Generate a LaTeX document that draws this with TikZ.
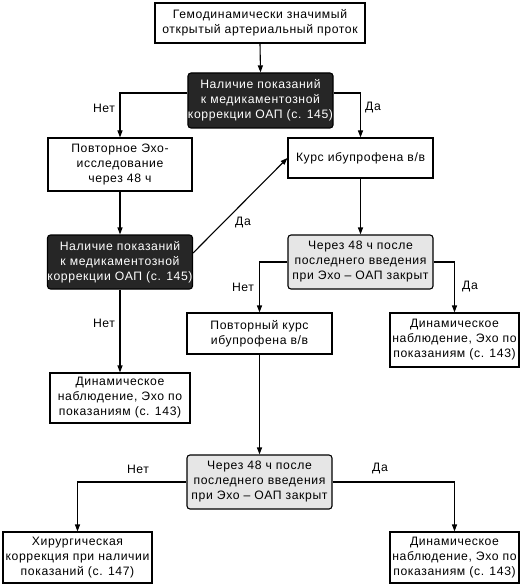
\documentclass[tikz,border=0pt]{standalone}
\usepackage{fontspec}
\setmainfont{Liberation Sans}[LetterSpace=5]
\usetikzlibrary{arrows.meta}
\begin{document}
\begin{tikzpicture}[x=1pt,y=-1pt,
  box/.style={draw=black,line width=1.1pt,fill=white,align=center,inner sep=0pt,
    font=\fontsize{12.2}{15}\selectfont},
  darkbox/.style={box,fill=darkfill,text=white,rounded corners=3pt},
  graybox/.style={box,fill=grayfill,rounded corners=3pt},
  lbl/.style={font=\fontsize{12.2}{15}\selectfont,inner sep=0pt},
  conn/.style={line width=1.1pt,-{Triangle[length=7pt,width=5pt]}}]
\definecolor{darkfill}{HTML}{262626}
\definecolor{grayfill}{HTML}{E6E6E6}
\useasboundingbox (0,0) rectangle (531,588);
\fill[white] (0,0) rectangle (531,588);
\node[box,minimum width=210,minimum height=40] (top) at (260,23) {Гемодинамически значимый\\открытый артериальный проток};
\node[darkbox,minimum width=145,minimum height=55] (d1) at (260.5,100.5) {Наличие показаний\\к медикаментозной\\коррекции ОАП (с. 145)};
\node[box,minimum width=144,minimum height=53] (echo) at (120,164.5) {Повторное Эхо-\\исследование\\через 48 ч};
\node[box,minimum width=145,minimum height=40] (ibu) at (360.5,158) {Курс ибупрофена в/в};
\node[darkbox,minimum width=145,minimum height=54] (d2) at (120,262) {Наличие показаний\\к медикаментозной\\коррекции ОАП (с. 145)};
\node[graybox,minimum width=145,minimum height=54] (g1) at (360.5,262) {Через 48 ч после\\последнего введения\\при Эхо – ОАП закрыт};
\node[box,minimum width=145,minimum height=41] (rep) at (259.5,333.5) {Повторный курс\\ибупрофена в/в};
\node[box,minimum width=129,minimum height=54] (dynR1) at (454.5,340) {Динамическое\\наблюдение, Эхо по\\показаниям (с. 143)};
\node[box,minimum width=140,minimum height=50] (dynL) at (120,398) {Динамическое\\наблюдение, Эхо по\\показаниям (с. 143)};
\node[graybox,minimum width=145,minimum height=54] (g2) at (259.5,482) {Через 48 ч после\\последнего введения\\при Эхо – ОАП закрыт};
\node[box,minimum width=149,minimum height=51] (surg) at (77.5,557.5) {Хирургическая\\коррекция при наличии\\показаний (с. 147)};
\node[box,minimum width=129,minimum height=51] (dynR2) at (454.5,557.5) {Динамическое\\наблюдение, Эхо по\\показаниям (с. 143)};

\node[lbl] (l1) at (104,108) {Нет};
\node[lbl] (l2) at (373,108) {Да};
\node[lbl] (l3) at (243,223) {Да};
\node[lbl] (l4) at (243,287) {Нет};
\node[lbl] (l5) at (470,287) {Да};
\node[lbl] (l6) at (104,323) {Нет};
\node[lbl] (l7) at (138,469) {Нет};
\node[lbl] (l8) at (380,469) {Да};

\draw[conn] (top.south) -- (d1.north);
\draw[conn] ([yshift=7.5pt]d1.west) -| (echo.north);
\draw[conn] ([yshift=7.5pt]d1.east) -| (ibu.north);
\draw[conn] (echo.south) -- (d2.north);
\draw[conn] ([yshift=9pt]d2.east) -- (ibu.west);
\draw[conn] (ibu.south) -- (g1.north);
\draw[conn] (g1.west) -| (rep.north);
\draw[conn] (g1.east) -| (dynR1.north);
\draw[conn] (d2.south) -- (dynL.north);
\draw[conn] (rep.south) -- (g2.north);
\draw[conn] (g2.west) -| (surg.north);
\draw[conn] (g2.east) -| (dynR2.north);
\end{tikzpicture}
\end{document}
